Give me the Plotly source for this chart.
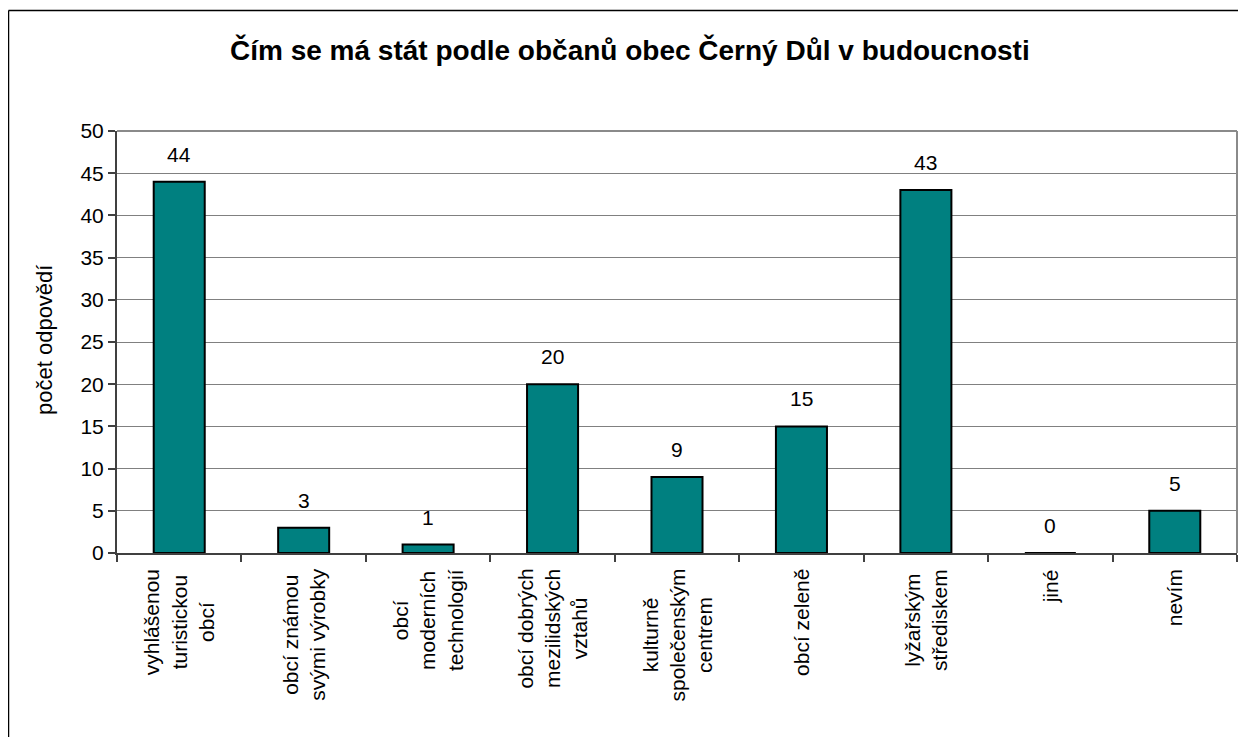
import plotly.graph_objects as go

categories = [
    "vyhlášenou<br>turistickou<br>obcí",
    "obcí známou<br>svými výrobky",
    "obcí<br>moderních<br>technologií",
    "obcí dobrých<br>mezilidských<br>vztahů",
    "kulturně<br>společenským<br>centrem",
    "obcí zeleně",
    "lyžařským<br>střediskem",
    "jiné",
    "nevím",
]
values = [44, 3, 1, 20, 9, 15, 43, 0, 5]
y_ticks = [0, 5, 10, 15, 20, 25, 30, 35, 40, 45, 50]

title_text = "Čím se má stát podle občanů obec Černý Důl v budoucnosti"
y_title = "počet odpovědí"

FONT = "Liberation Sans, Arial, sans-serif"
OFF = 8  # page body margin
W, H = 1246 - OFF, 737 - OFF
ML, MR, MT, MB = 117 - OFF, 9, 131 - OFF, 184
PW = W - ML - MR
PH = H - MT - MB


def px_x(p):
    return (p - OFF - ML) / PW


def px_y(p):
    return (H - MB - (p - OFF)) / PH


fig = go.Figure()
fig.add_trace(go.Bar(
    x=list(range(len(categories))),
    y=values,
    width=0.41,
    marker=dict(color="#008080", line=dict(color="#000000", width=2)),
    hoverinfo="skip",
))

annotations = []
for i, v in enumerate(values):
    annotations.append(dict(
        x=i, y=v, xref="x", yref="y", text=str(v), showarrow=False,
        yanchor="bottom", xanchor="center", yshift=14,
        font=dict(family=FONT, size=21, color="#000000"),
    ))
for i, c in enumerate(categories):
    annotations.append(dict(
        x=i, y=0, xref="x", yref="paper", text=c, showarrow=False,
        textangle=-90, align="center", yanchor="top", xanchor="center",
        yshift=-14,
        font=dict(family=FONT, size=21, color="#000000"),
    ))
annotations.append(dict(
    x=px_x(630), y=px_y(50), xref="paper", yref="paper",
    text="<b>" + title_text + "</b>", showarrow=False,
    xanchor="center", yanchor="middle",
    font=dict(family=FONT, size=28, color="#000000"),
))
annotations.append(dict(
    x=px_x(44), y=px_y(340), xref="paper", yref="paper",
    text=y_title, showarrow=False, textangle=-90,
    xanchor="center", yanchor="middle",
    font=dict(family=FONT, size=22, color="#000000"),
))

shapes = [
    # outer chart border (only left and top edges are visible)
    dict(type="line", xref="paper", yref="paper",
         x0=px_x(8.5), x1=px_x(1300), y0=px_y(10.5), y1=px_y(10.5),
         line=dict(color="#000000", width=1.5), layer="below"),
    dict(type="line", xref="paper", yref="paper",
         x0=px_x(8.5), x1=px_x(8.5), y0=px_y(10.5), y1=px_y(800),
         line=dict(color="#000000", width=1.5), layer="below"),
    # gray top/right plot-area border
    dict(type="line", xref="paper", yref="paper", x0=0, x1=1, y0=1, y1=1,
         line=dict(color="#8a8a8a", width=2)),
    dict(type="line", xref="paper", yref="paper", x0=1, x1=1, y0=0, y1=1,
         line=dict(color="#8a8a8a", width=2)),
]

fig.update_layout(
    width=W, height=H,
    margin=dict(l=ML, r=MR, t=MT, b=MB, pad=0),
    paper_bgcolor="#ffffff", plot_bgcolor="#ffffff",
    showlegend=False,
    annotations=annotations,
    shapes=shapes,
    font=dict(family=FONT, size=21, color="#000000"),
)
fig.update_xaxes(
    range=[-0.5, len(categories) - 0.5],
    tickmode="array", tickvals=[i + 0.5 for i in range(-1, len(categories))],
    ticktext=[""] * (len(categories) + 1),
    ticks="outside", ticklen=7, tickcolor="#404040", tickwidth=1.5,
    showticklabels=False,
    showgrid=False, zeroline=False,
    showline=True, linecolor="#404040", linewidth=2, mirror=False,
)
fig.update_yaxes(
    range=[0, 50],
    tickmode="array", tickvals=y_ticks, ticktext=[str(t) for t in y_ticks],
    ticks="outside", ticklen=7, tickcolor="#404040", tickwidth=1.5,
    tickfont=dict(family=FONT, size=21, color="#000000"),
    showgrid=True, gridcolor="#808080", gridwidth=1,
    zeroline=False,
    showline=True, linecolor="#404040", linewidth=2, mirror=False,
)

fig.write_html("out.html")
